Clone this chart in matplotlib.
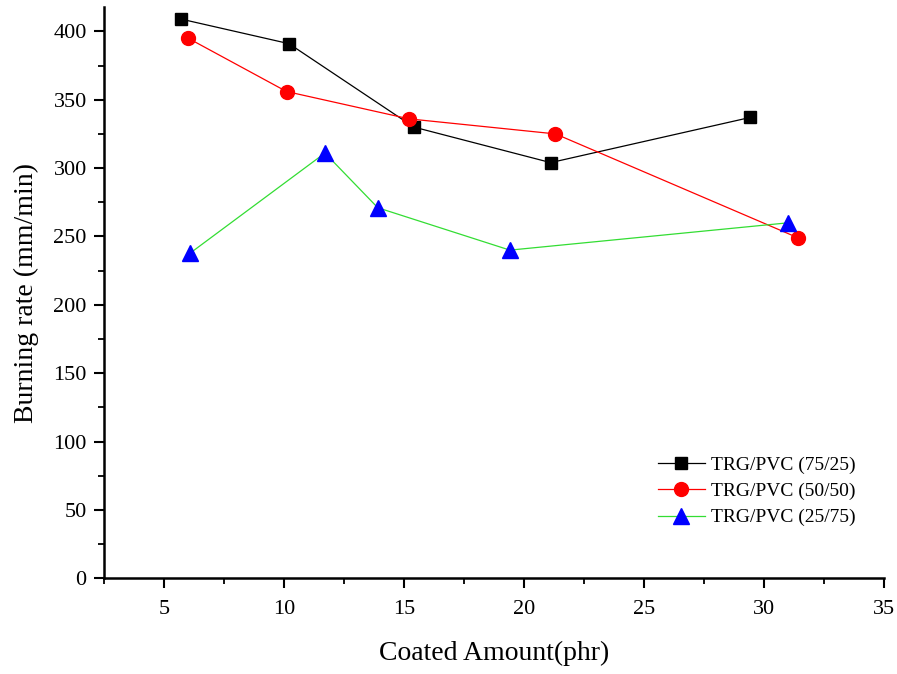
import matplotlib.pyplot as plt
from matplotlib.ticker import MultipleLocator

plt.rcParams['font.family'] = ['Liberation Serif', 'DejaVu Serif']

x_7525 = [5.7, 10.2, 15.4, 21.1, 29.4]
y_7525 = [409, 391, 330, 304, 337]

x_5050 = [6.0, 10.1, 15.2, 21.3, 31.4]
y_5050 = [395, 356, 336, 325, 249]

x_2575 = [6.1, 11.7, 13.9, 19.4, 31.0]
y_2575 = [238, 311, 271, 240, 260]

fig = plt.figure(figsize=(8.97, 6.74), dpi=100)
ax = fig.add_axes([0.116, 0.142, 0.870, 0.848])

ax.plot(x_7525, y_7525, color='black', lw=0.9, marker='s', ms=9,
        mfc='black', mec='black', label='TRG/PVC (75/25)')
ax.plot(x_5050, y_5050, color='red', lw=0.9, marker='o', ms=10,
        mfc='red', mec='red', label='TRG/PVC (50/50)')
ax.plot(x_2575, y_2575, color='#33dd33', lw=0.9, marker='^', ms=11,
        mfc='blue', mec='blue', label='TRG/PVC (25/75)')

ax.set_xlim(2.5, 35)
ax.set_ylim(0, 418)
ax.xaxis.set_major_locator(MultipleLocator(5))
ax.xaxis.set_minor_locator(MultipleLocator(2.5))
ax.yaxis.set_major_locator(MultipleLocator(50))
ax.yaxis.set_minor_locator(MultipleLocator(25))

for s in ['top', 'right']:
    ax.spines[s].set_visible(False)
for s in ['left', 'bottom']:
    ax.spines[s].set_linewidth(1.8)

ax.tick_params(which='major', direction='out', length=7.5, width=1.5, labelsize=16)
ax.tick_params(axis='x', which='major', pad=8)
ax.tick_params(axis='y', which='major', pad=5)
ax.tick_params(which='minor', direction='out', length=4.5, width=1.3)

ax.set_xlabel('Coated Amount(phr)', fontsize=20, labelpad=16)
ax.set_ylabel('Burning rate (mm/min)', fontsize=20, labelpad=10)

ax.legend(loc='lower right', bbox_to_anchor=(0.985, 0.06), frameon=False,
          fontsize=14, handlelength=2.4, handletextpad=0.3, labelspacing=0.45)

fig.savefig('out.png', dpi=100)
